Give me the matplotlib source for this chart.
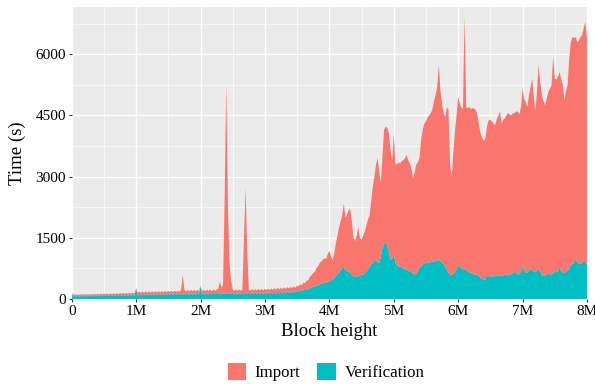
import numpy as np
import matplotlib
matplotlib.use("Agg")
import matplotlib.pyplot as plt
from matplotlib.patches import Patch

plt.rcParams['font.family'] = ['Liberation Serif', 'DejaVu Serif']

# sync time per 25k-block bucket, seconds (import + verification stacked)
block_step = 25_000
total_time = [
    170, 100, 120, 95, 118, 98, 120, 100, 122, 100,
    125, 102, 125, 105, 128, 105, 130, 108, 132, 110,
    135, 112, 135, 112, 138, 115, 140, 118, 142, 120,
    145, 125, 150, 125, 150, 128, 152, 130, 155, 135,
    270,
    150, 180, 150, 182, 152, 185, 155, 185, 155, 188,
    158, 190, 160, 192, 160, 195, 162, 198, 165, 200,
    168, 200, 170, 205, 172, 208, 175,
    230, 590, 220,
    185, 222, 185, 225, 188, 225, 188, 228, 190, 320,
    192, 230, 192, 232, 195, 232, 195, 235, 198, 235,
    250,
    425, 280, 350, 2500, 5300, 2300, 900, 450, 230,
    200, 235, 200, 238, 205,
    220, 1500, 2720, 1200, 220,
    205, 240, 208, 242, 210, 245, 210, 245, 212,
    250, 215, 255, 220, 260, 225, 265, 230, 272, 235,
    278, 242, 285, 250, 292, 258, 300, 265, 310, 275,
    330, 310, 360, 340, 400, 390, 450, 460,
    550, 580, 640, 660, 760, 800, 880, 920, 960, 1000, 980, 1100,
    1180, 1050, 960, 1100, 1350, 1550, 1750, 1900, 2050, 2340,
    2000, 2050, 2180, 2200, 1900, 1500, 1420, 1550, 1770, 1500,
    1450, 1550, 1650, 1800, 1950, 2050, 2400, 2750, 3000,
    3300, 3450, 3100, 2850, 3500, 4150, 4220, 4200, 4050, 3650,
    3400, 4050, 3320,
    3300, 3350, 3320, 3380, 3400, 3450, 3530, 3400, 3320, 3200,
    2950, 3100, 3300, 3350, 3450, 3900, 4150, 4300, 4350,
    4450, 4500, 4550, 4650, 4850, 5000, 5200, 5730, 5100, 4800,
    4550, 4450, 4700, 4650, 3300, 3000, 3600, 4100, 4500, 4950,
    4800, 4700, 4650, 6950, 4700, 4680, 4700, 4650, 4680, 4670,
    4630, 4500, 4250, 4050, 3950, 3870, 3950, 4250, 4380, 4400,
    4350, 4300, 4260, 4400, 4500, 4600, 4300, 4400, 4430, 4500,
    4560, 4520, 4500, 4550, 4560, 4600, 4590, 4520, 4700, 5160,
    4900, 4830, 4700, 5000, 5200, 5400, 4950, 4600, 5100, 5730,
    5300, 5000, 4850, 4750, 4900, 5080, 5150, 5240, 5950, 5400,
    5380, 5450, 5560, 5400, 5250, 4870, 5100, 5250, 5900, 6300,
    6420, 6400, 6420, 6300, 6340, 6420, 6470, 6650, 6790, 6400,
]
verify_time = [
    160, 55, 85, 55, 88, 58, 88, 58, 90, 60,
    92, 60, 92, 62, 95, 62, 95, 65, 98, 65,
    98, 65, 100, 68, 100, 68, 102, 70, 105, 70,
    105, 72, 108, 72, 108, 75, 110, 75, 112, 78,
    260,
    80, 120, 82, 120, 85, 122, 85, 125, 88, 125,
    88, 128, 90, 128, 92, 130, 92, 132, 95, 132,
    95, 135, 98, 135, 100, 138, 100,
    140, 100, 140,
    100, 140, 100, 142, 102, 142, 102, 145, 105, 300,
    105, 145, 105, 148, 108, 148, 108, 150, 110, 150,
    120,
    150, 110, 150, 120, 150, 130, 150, 120, 150,
    110, 152, 110, 155, 112,
    155, 120, 150, 120, 155,
    112, 158, 115, 158, 115, 160, 118, 160, 118,
    162, 120, 165, 122, 168, 125, 170, 128, 175, 130,
    178, 135, 182, 140, 188, 145, 192, 150, 198, 160,
    205, 180, 215, 200, 230, 215, 245, 235,
    270, 280, 300, 310, 320, 340, 360, 370, 380, 400, 400, 420,
    430, 450, 470, 500, 560, 620, 650, 700, 750, 790,
    700, 680, 670, 640, 580, 550, 560, 540, 560, 570,
    590, 600, 620, 680, 720, 790, 850, 880, 950,
    950, 900, 880, 1050, 1250, 1350, 1400, 1280, 1150, 950,
    1000, 1100, 900,
    830, 800, 790, 770, 750, 730, 710, 700, 680, 660,
    630, 600, 620, 680, 780, 800, 840, 870, 880,
    900, 880, 900, 920, 900, 930, 950, 960, 920, 880,
    850, 800, 720, 650, 590, 580, 620, 650, 720, 830,
    800, 760, 720, 740, 700, 680, 650, 640, 620, 600,
    600, 580, 560, 520, 500, 470, 470, 600, 560, 550,
    560, 550, 560, 570, 560, 590, 570, 580, 600, 590,
    580, 600, 610, 640, 670, 640, 600, 610, 650, 830,
    700, 650, 640, 700, 750, 700, 680, 650, 700, 750,
    680, 580, 560, 580, 600, 620, 610, 600, 640, 670,
    650, 680, 790, 680, 650, 630, 660, 700, 720, 830,
    860, 900, 990, 900, 870, 850, 880, 950, 900, 850,
]
assert len(total_time) == len(verify_time)

x_ticks = [0, 1e6, 2e6, 3e6, 4e6, 5e6, 6e6, 7e6, 8e6]
x_tick_labels = ["0", "1M", "2M", "3M", "4M", "5M", "6M", "7M", "8M"]
y_ticks = [0, 1500, 3000, 4500, 6000]

heights = np.arange(len(total_time)) * block_step
total_time = np.array(total_time)
verify_time = np.array(verify_time)
import_time = total_time - verify_time

import_color = '#F8766D'
verify_color = '#00BFC4'

fig = plt.figure(figsize=(5.95, 3.84), dpi=100)
ax = fig.add_axes([0.1205, 0.2214, 0.866, 0.7596])

ax.stackplot(heights, verify_time, import_time,
             colors=[verify_color, import_color], linewidth=0)

ax.set_xlim(0, 8e6)
ax.set_ylim(0, 7150)
ax.set_xticks(x_ticks)
ax.set_xticklabels(x_tick_labels)
ax.set_yticks(y_ticks)
ax.set_xticks(np.arange(0.5e6, 8e6, 1e6), minor=True)
ax.set_yticks([750, 2250, 3750, 5250, 6750], minor=True)

ax.set_facecolor('#EBEBEB')
ax.grid(which='major', color='white', linewidth=1.0)
ax.grid(which='minor', color='white', linewidth=0.5)
ax.set_axisbelow(True)
for s in ax.spines.values():
    s.set_visible(False)

ax.tick_params(which='major', direction='out', length=2.5, width=0.8,
               color='#333333', labelsize=11, labelcolor='black', pad=1.5)
ax.tick_params(which='minor', length=0)

ax.set_xlabel("Block height", fontsize=13.5, labelpad=4)
ax.set_ylabel("Time (s)", fontsize=13.5, labelpad=7)

handles = [Patch(facecolor=import_color, label="Import"),
           Patch(facecolor=verify_color, label="Verification")]
fig.legend(handles=handles, loc='center', bbox_to_anchor=(0.548, 0.031),
           ncol=2, frameon=False, fontsize=12.2, handlelength=1.1,
           handleheight=1.2, handletextpad=0.5, columnspacing=1.0)

fig.savefig("out.png", dpi=100)
